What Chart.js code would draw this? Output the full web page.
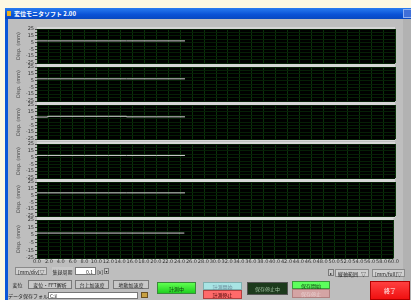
<!DOCTYPE html>
<html>
<head>
    <title>変位モニタソフト</title>
    <script src="https://cdn.jsdelivr.net/npm/chart.js"></script>
    <style>
        body {
            margin: 0;
            width: 411px;
            height: 300px;
            overflow: hidden;
            background: #fdf8e2;
            font-family: "Noto Sans CJK JP", "DejaVu Sans", sans-serif;
            position: relative;
        }

        .win {
            position: absolute;
            left: 5px;
            top: 8px;
            width: 420px;
            height: 300px;
            background: #0b57d8;
        }

        .titlebar {
            position: absolute;
            left: 0;
            top: 0;
            width: 420px;
            height: 11px;
            background: linear-gradient(#2a7cf0, #0a52d6 60%, #0848c0);
            color: #fff;
            font-size: 6px;
            line-height: 11px;
            font-weight: bold;
        }

        .titlebar .icon {
            position: absolute;
            left: 2px;
            top: 3px;
            width: 4px;
            height: 5px;
            background: #e8b020;
        }

        .titlebar .txt {
            position: absolute;
            left: 9px;
        }

        .titlebar .close {
            position: absolute;
            left: 398px;
            top: 1px;
            width: 9px;
            height: 9px;
            background: #3f6fd8;
            border: 1px solid #8fb0f0;
            box-sizing: border-box;
        }

        .body {
            position: absolute;
            left: 3px;
            top: 11px;
            width: 420px;
            height: 290px;
            background: #bebebe;
        }

        .scroll {
            position: absolute;
            left: 403px;
            top: 19px;
            width: 8px;
            height: 281px;
            background: #b2b2b2;
        }

        canvas {
            position: absolute;
            left: 10px;
        }

        .ctl {
            position: absolute;
            box-sizing: border-box;
            font-size: 5px;
            line-height: 1;
            display: flex;
            align-items: center;
            justify-content: center;
            white-space: nowrap;
            color: #222;
        }

        .drop {
            background: #d0d0d0;
            border: 1px solid #8a8a8a;
            justify-content: space-between;
            padding: 0 2px;
        }

        .btn {
            border: 1px solid #7a7a7a;
            background: #c8c8c8;
        }

        .field {
            background: #fff;
            border: 1px solid #777;
        }
    </style>
</head>
<body>
    <div class="win">
        <div class="titlebar"><span class="icon"></span><span class="txt">変位モニタソフト 2.00</span><span class="close"></span></div>
        <div class="body"></div>
    </div>
    <div class="scroll"></div>

    <div id="charts"></div>

    <div class="ctl drop" style="left:15px;top:267px;width:32px;height:8px;"><span>[mm/div]</span><span>▽</span></div>
    <div class="ctl" style="left:52px;top:267px;width:21px;height:8px;background:#c8c8c8;">集録周期</div>
    <div class="ctl field" style="left:75px;top:267px;width:21px;height:8px;justify-content:flex-end;padding-right:2px;">0.1</div>
    <div class="ctl" style="left:96px;top:267px;width:8px;height:8px;">[s]</div>
    <div class="ctl btn" style="left:104px;top:268px;width:5px;height:6px;font-size:4px;">▾</div>

    <div class="ctl" style="left:8px;top:280px;width:19px;height:9px;">変位</div>
    <div class="ctl btn" style="left:28px;top:280px;width:44px;height:9px;">変位・FFT解析</div>
    <div class="ctl btn" style="left:75px;top:280px;width:34px;height:9px;">台上加速度</div>
    <div class="ctl btn" style="left:113px;top:280px;width:36px;height:9px;">地動加速度</div>

    <div class="ctl" style="left:8px;top:292px;width:40px;height:7px;justify-content:flex-start;">データ保存フォルダ</div>
    <div class="ctl field" style="left:48px;top:292px;width:90px;height:7px;justify-content:flex-start;padding-left:1px;">C:¥</div>
    <div class="ctl" style="left:141px;top:292px;width:7px;height:6px;background:#c8a040;border:1px solid #6a5020;"></div>

    <div class="ctl" style="left:157px;top:282px;width:39px;height:12px;background:linear-gradient(#60ff50,#20d020);border:1px solid #3a8a3a;color:#104010;">計測中</div>
    <div class="ctl" style="left:203px;top:282px;width:39px;height:8px;background:#a8e4e4;border:1px solid #80b0b0;color:#6a8a9a;">計測開始</div>
    <div class="ctl" style="left:203px;top:290px;width:39px;height:9px;background:#ff6a6a;border:1px solid #b04040;color:#400000;">計測停止</div>
    <div class="ctl" style="left:247px;top:282px;width:41px;height:13px;background:#1c3a1c;border:1px solid #555;color:#a0c0a0;">保存停止中</div>
    <div class="ctl" style="left:292px;top:281px;width:38px;height:8px;background:#5cff5c;border:1px solid #3a9a3a;color:#104010;">保存開始</div>
    <div class="ctl" style="left:292px;top:289px;width:38px;height:9px;background:#d4a4a4;border:1px solid #b08080;color:#e8d0d0;">保存停止</div>
    <div class="ctl" style="left:370px;top:281px;width:40px;height:19px;background:linear-gradient(#ff4040,#f01010);border:1px solid #b00000;color:#fff;font-size:6px;">終了</div>

    <div class="ctl btn" style="left:328px;top:269px;width:6px;height:7px;font-size:4px;">▸</div>
    <div class="ctl drop" style="left:335px;top:269px;width:34px;height:8px;"><span>縦軸範囲</span><span>▽</span></div>
    <div class="ctl drop" style="left:372px;top:269px;width:33px;height:8px;"><span>[mm/full]</span><span>▽</span></div>

    <script>
        // sample times (s)
        const times = [0, 1.8, 4.0, 8.0, 12.0, 15.0, 20.0, 24.8];
        // displacement for each channel (mm)
        const ch1 = [7.5, 7.5, 7.5, 7.5, 7.5, 7.5, 7.5, 7.5];
        const ch2 = [7.6, 7.6, 7.6, 7.6, 7.6, 7.6, 7.6, 7.6];
        const ch3 = [7.3, 8.4, 8.4, 8.4, 8.4, 7.6, 7.6, 7.6];
        const ch4 = [8.2, 8.2, 8.2, 8.2, 8.2, 8.2, 8.2, 8.2];
        const ch5 = [9.0, 9.0, 9.0, 9.0, 9.0, 9.0, 9.0, 9.0];
        const ch6 = [7.8, 7.8, 7.8, 7.8, 7.8, 7.8, 7.8, 7.8];
        const channels = [ch1, ch2, ch3, ch4, ch5, ch6];
        const yMin = -25, yMax = 25;
        const xMin = 0, xMax = 60;

        const plotBg = {
            id: 'plotBg',
            beforeDraw(chart) {
                const a = chart.chartArea;
                const ctx = chart.ctx;
                ctx.save();
                ctx.fillStyle = '#d6d6d6';
                ctx.fillRect(a.left, a.top - 2, a.right - a.left, a.bottom - a.top + 4);
                ctx.fillStyle = '#000';
                ctx.fillRect(a.left, a.top, a.right - a.left, a.bottom - a.top);
                ctx.restore();
            }
        };

        const container = document.getElementById('charts');
        const plotH = 34;

        channels.forEach((values, i) => {
            const last = i === channels.length - 1;
            const top = 29 + 38.2 * i;
            const axisH = last ? 12 : 0;
            const canvas = document.createElement('canvas');
            canvas.style.top = Math.round(top - 4) + 'px';
            canvas.style.width = '390px';
            canvas.style.height = (plotH + 8 + axisH) + 'px';
            container.appendChild(canvas);

            new Chart(canvas, {
                type: 'line',
                data: {
                    datasets: [{
                        data: times.map((t, k) => ({ x: t, y: values[k] })),
                        borderColor: '#d4d4d4',
                        borderWidth: 1,
                        pointRadius: 0,
                        stepped: true,
                    }],
                },
                options: {
                    responsive: false,
                    animation: false,
                    devicePixelRatio: 1,
                    layout: { padding: { left: 0, right: 5, top: 4, bottom: last ? 0 : 4 } },
                    plugins: { legend: { display: false }, tooltip: { enabled: false } },
                    scales: {
                        x: {
                            type: 'linear',
                            min: xMin,
                            max: xMax,
                            border: { display: false },
                            grid: { color: '#0a320a', drawTicks: false },
                            ticks: {
                                display: last,
                                stepSize: 2,
                                maxRotation: 0,
                                autoSkip: false,
                                padding: 1,
                                color: '#333',
                                font: { size: 5, family: 'DejaVu Sans' },
                                callback: v => v.toFixed(1),
                            },
                            afterFit: s => { s.height = axisH; },
                        },
                        y: {
                            min: yMin,
                            max: yMax,
                            border: { display: false },
                            grid: { color: '#061f06', tickColor: '#444', tickLength: 2 },
                            ticks: {
                                stepSize: 5,
                                autoSkip: false,
                                padding: 1,
                                color: '#333',
                                font: { size: 5, family: 'DejaVu Sans' },
                                callback: v => ((v - yMin) % 10 === 0 ? v : ''),
                            },
                            title: {
                                display: true,
                                text: 'Disp. (mm)',
                                color: '#444',
                                font: { size: 5, family: 'DejaVu Sans' },
                                padding: { top: 6, bottom: 0 },
                            },
                            afterFit: s => { s.width = 27; },
                        },
                    },
                },
                plugins: [plotBg],
            });
        });
    </script>
</body>
</html>
